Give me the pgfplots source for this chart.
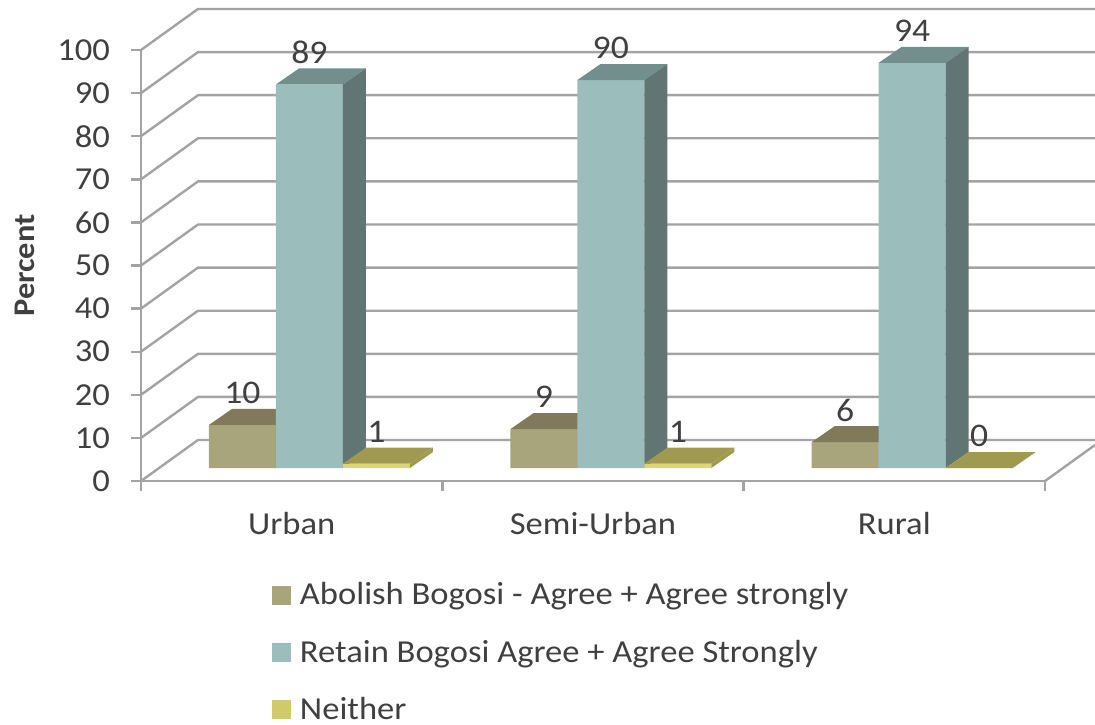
\documentclass[border=0pt]{standalone}
\usepackage{pgfplots}
\pgfplotsset{compat=1.18}
\usepackage{fontspec}
\setmainfont{Carlito}[FakeStretch=1.08]

\definecolor{txt}{HTML}{404040}
\definecolor{gridc}{HTML}{A3A3A3}
\definecolor{abfront}{HTML}{A8A57C}
\definecolor{abtop}{HTML}{807A5B}
\definecolor{refront}{HTML}{9BBDBB}
\definecolor{retop}{HTML}{728E8D}
\definecolor{reside}{HTML}{617574}
\definecolor{nefront}{HTML}{DDD672}
\definecolor{netop}{HTML}{A09A50}
\definecolor{neside}{HTML}{A09A50}
\definecolor{nelegend}{HTML}{CFCB6B}

% top and side face of one bar: left x, value, top colour, side colour
\newcommand{\barfaces}[4]{%
  \pgfmathsetmacro\xb{#1+0.2223}%
  \pgfmathsetmacro\xc{#1+0.2986}%
  \pgfmathsetmacro\xd{#1+0.0763}%
  \pgfmathsetmacro\yc{#2+3.71}%
  \pgfmathsetmacro\yd{3.71}%
  \addplot[fill=#3,draw=none,forget plot,yshift=6.5pt] coordinates {(#1,#2)(\xb,#2)(\xc,\yc)(\xd,\yc)} -- cycle;
  \addplot[fill=#4,draw=none,forget plot,yshift=6.5pt] coordinates {(\xb,0)(\xb,#2)(\xc,\yc)(\xc,\yd)} -- cycle;
}

\begin{document}
\begin{tikzpicture}
\useasboundingbox (0,0) rectangle (547.5pt,362pt);
\begin{axis}[
    at={(70.5pt,121.5pt)}, anchor=south west,
    scale only axis, width=452pt, height=215.5pt,
    xmin=0, xmax=3, ymin=0, ymax=100,
    clip=false,
    axis lines=left,
    axis line style={-, gridc, line width=1.2pt},
    tick style={gridc, line width=1.2pt},
    tick align=outside,
    major tick length=5pt,
    xtick={0,1,2,3}, xticklabels={},
    extra x ticks={0.5,1.5,2.5},
    extra x tick labels={Urban,Semi-Urban,Rural},
    extra x tick style={major tick length=0pt},
    ytick={0,10,...,100},
    /pgf/number format/assume math mode=true,
    ticklabel style={font=\fontsize{16}{19}\selectfont, text=txt},
    xticklabel style={yshift=-12pt},
    yticklabel style={xshift=-7pt},
    ylabel={Percent},
    ylabel style={at={(axis description cs:-0.128,0.5)}, anchor=center,
      font=\fontsize{15}{18}\selectfont\bfseries, text=txt},
    every node near coord/.append style={font=\fontsize{16.5}{19}\selectfont, text=txt,
      anchor=center, yshift=16pt},
    legend style={at={(rel axis cs:0.1449,-0.236)}, anchor=north west, draw=none,
      fill=none, inner sep=0pt, outer sep=0pt, font=\fontsize{16}{19}\selectfont,
      text=txt, row sep=16pt,
      nodes={inner xsep=4.5pt, inner ysep=0pt}},
    legend cell align=left,
    legend image code/.code={\fill[draw=none,#1] (0pt,-4.7pt) rectangle (9.5pt,4.7pt);},
]
% walls
\pgfplotsinvokeforeach{0,10,...,100}{
  \draw[gridc, line width=1.2pt] (axis cs:0,#1) -- ++(28.5pt,20.5pt) -- ++(448.5pt,0pt);
}
\draw[gridc, line width=1.2pt] (axis cs:3,0) -- ++(25pt,18pt);

% Abolish
\addplot[ybar, bar width=33.5pt, bar shift=0pt, fill=abfront, draw=none, forget plot,
  yshift=6.5pt, nodes near coords]
  coordinates {(0.3368,10)(1.3368,9)(2.3368,6)};
\barfaces{0.2257}{10}{abtop}{abtop}
\barfaces{1.2257}{9}{abtop}{abtop}
\barfaces{2.2257}{6}{abtop}{abtop}

% Retain
\addplot[ybar, bar width=33.5pt, bar shift=0pt, fill=refront, draw=none, forget plot,
  yshift=6.5pt, nodes near coords]
  coordinates {(0.5591,89)(1.5591,90)(2.5591,94)};
\barfaces{0.4480}{89}{retop}{reside}
\barfaces{1.4480}{90}{retop}{reside}
\barfaces{2.4480}{94}{retop}{reside}

% Neither
\addplot[ybar, bar width=33.5pt, bar shift=0pt, fill=nefront, draw=none, forget plot,
  yshift=6.5pt, nodes near coords]
  coordinates {(0.7814,1)(1.7814,1)(2.7814,0)};
\barfaces{0.6703}{1}{netop}{neside}
\barfaces{1.6703}{1}{netop}{neside}
\barfaces{2.6703}{0}{netop}{neside}

\addlegendimage{fill=abfront}
\addlegendimage{fill=refront}
\addlegendimage{fill=nelegend}
\legend{Abolish Bogosi - Agree + Agree strongly, Retain Bogosi Agree + Agree Strongly, Neither}
\end{axis}
\end{tikzpicture}
\end{document}
